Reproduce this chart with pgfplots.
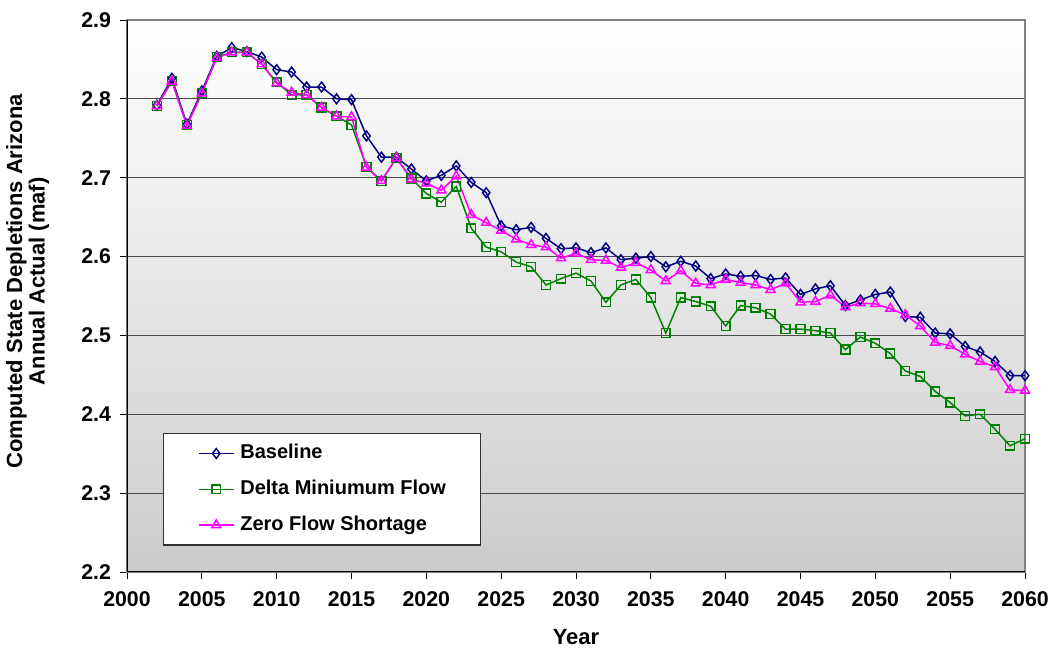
\documentclass[border=0pt]{standalone}
\usepackage{fontspec}
\setmainfont{Liberation Sans}
\usepackage{pgfplots}
\pgfplotsset{compat=1.18}
\usepackage{pgfplotstable}
\definecolor{navyc}{RGB}{0,0,128}
\definecolor{greenc}{RGB}{0,128,0}
\definecolor{pinkc}{RGB}{255,0,255}
\pgfplotstableread{
year val
2002 2.792
2003 2.826
2004 2.768
2005 2.810
2006 2.854
2007 2.865
2008 2.860
2009 2.853
2010 2.837
2011 2.834
2012 2.815
2013 2.815
2014 2.800
2015 2.799
2016 2.753
2017 2.726
2018 2.726
2019 2.711
2020 2.696
2021 2.703
2022 2.715
2023 2.694
2024 2.681
2025 2.639
2026 2.634
2027 2.637
2028 2.623
2029 2.610
2030 2.611
2031 2.605
2032 2.611
2033 2.596
2034 2.598
2035 2.600
2036 2.587
2037 2.594
2038 2.588
2039 2.572
2040 2.578
2041 2.575
2042 2.576
2043 2.571
2044 2.573
2045 2.552
2046 2.559
2047 2.563
2048 2.538
2049 2.545
2050 2.552
2051 2.555
2052 2.524
2053 2.523
2054 2.503
2055 2.502
2056 2.486
2057 2.479
2058 2.467
2059 2.449
2060 2.449
}\baseline
\pgfplotstableread{
year val
2002 2.791
2003 2.823
2004 2.767
2005 2.807
2006 2.853
2007 2.859
2008 2.859
2009 2.844
2010 2.821
2011 2.805
2012 2.805
2013 2.789
2014 2.778
2015 2.767
2016 2.714
2017 2.696
2018 2.725
2019 2.699
2020 2.680
2021 2.669
2022 2.689
2023 2.636
2024 2.612
2025 2.606
2026 2.593
2027 2.587
2028 2.564
2029 2.572
2030 2.579
2031 2.569
2032 2.542
2033 2.564
2034 2.571
2035 2.548
2036 2.503
2037 2.548
2038 2.543
2039 2.537
2040 2.512
2041 2.538
2042 2.535
2043 2.527
2044 2.508
2045 2.508
2046 2.506
2047 2.503
2048 2.482
2049 2.498
2050 2.490
2051 2.477
2052 2.455
2053 2.448
2054 2.429
2055 2.415
2056 2.398
2057 2.400
2058 2.381
2059 2.360
2060 2.369
}\deltamin
\pgfplotstableread{
year val
2002 2.791
2003 2.822
2004 2.766
2005 2.807
2006 2.852
2007 2.859
2008 2.859
2009 2.844
2010 2.820
2011 2.808
2012 2.805
2013 2.789
2014 2.778
2015 2.777
2016 2.713
2017 2.696
2018 2.725
2019 2.698
2020 2.693
2021 2.684
2022 2.702
2023 2.653
2024 2.643
2025 2.633
2026 2.622
2027 2.615
2028 2.612
2029 2.598
2030 2.604
2031 2.596
2032 2.595
2033 2.586
2034 2.592
2035 2.583
2036 2.569
2037 2.582
2038 2.566
2039 2.564
2040 2.571
2041 2.567
2042 2.564
2043 2.558
2044 2.566
2045 2.542
2046 2.543
2047 2.551
2048 2.536
2049 2.541
2050 2.540
2051 2.534
2052 2.526
2053 2.512
2054 2.491
2055 2.487
2056 2.476
2057 2.467
2058 2.460
2059 2.431
2060 2.430
}\zeroflow
\begin{document}
\begin{tikzpicture}
\begin{axis}[
  name=ax,
  scale only axis,
  width=673.5pt, height=414pt,
  xmin=2000, xmax=2060, ymin=2.2, ymax=2.9,
  xtick={2000,2005,2010,2015,2020,2025,2030,2035,2040,2045,2050,2055,2060},
  ytick={2.2,2.3,2.4,2.5,2.6,2.7,2.8,2.9},
  tick align=outside,
  xtick pos=left, ytick pos=left,
  major tick length=5.5pt,
  tick style={black, line width=0.6pt},
  /pgf/number format/assume math mode=true,
  ticklabel style={font=\fontsize{16}{19}\selectfont\bfseries},
  xticklabel style={/pgf/number format/1000 sep={}, yshift=-6pt},
  yticklabel style={/pgf/number format/.cd, fixed, fixed zerofill, precision=1, /tikz/xshift=-3pt},
  ymajorgrids,
  grid style={draw=black!70, line width=0.8pt},
  axis line style={draw=black!50, line width=0.8pt},
  axis background/.style={shade, top color=white, bottom color=black!20},
  xlabel={Year},
  ylabel={Computed State Depletions Arizona\\Annual Actual (maf)},
  every axis x label/.style={at={([yshift=-49pt]axis description cs:0.5,0)}, anchor=center, font=\fontsize{16.5}{19}\selectfont\bfseries},
  every axis y label/.style={at={([xshift=-74.5pt,yshift=11pt]axis description cs:0,0.5)}, rotate=90, anchor=center, align=center, font=\fontsize{16.5}{17}\selectfont\bfseries},
  legend style={at={(0.0401,0.2518)}, anchor=north west, draw=black!80, line width=0.8pt, fill=white,
    font=\fontsize{15}{18}\selectfont\bfseries,
    inner xsep=26pt, inner ysep=8pt, row sep=12.8pt,
    nodes={inner sep=0pt, text height=11pt, text depth=3pt},
    /tikz/every odd column/.append style={column sep=4.5pt}},
  legend cell align=left,
  legend image code/.code={\draw[mark repeat=2,mark phase=2,#1] plot coordinates {(0pt,0pt) (13pt,0pt) (26pt,0pt)};},
]
\addplot[navyc, line width=1.1pt, mark=diamond, mark size=3.7pt, mark options={solid, line width=1.1pt, fill=none}] table[x=year,y=val] {\baseline};
\addlegendentry{Baseline}
\addplot[greenc, line width=1.1pt, mark=square, mark size=3.3pt, mark options={solid, line width=1.1pt, fill=none}] table[x=year,y=val] {\deltamin};
\addlegendentry{Delta Miniumum Flow}
\addplot[pinkc, line width=1.1pt, mark=triangle, mark size=3.9pt, mark options={solid, line width=1.1pt, fill=none}] table[x=year,y=val] {\zeroflow};
\addlegendentry{Zero Flow Shortage}
\draw[black, line width=0.8pt] (rel axis cs:0,1) -- (rel axis cs:0,0) -- (rel axis cs:1,0);
\end{axis}
\pgfresetboundingbox
\path ([xshift=-95.25pt,yshift=-61.5pt]ax.south west) rectangle ([xshift=20.25pt,yshift=15pt]ax.north east);
\end{tikzpicture}
\end{document}
